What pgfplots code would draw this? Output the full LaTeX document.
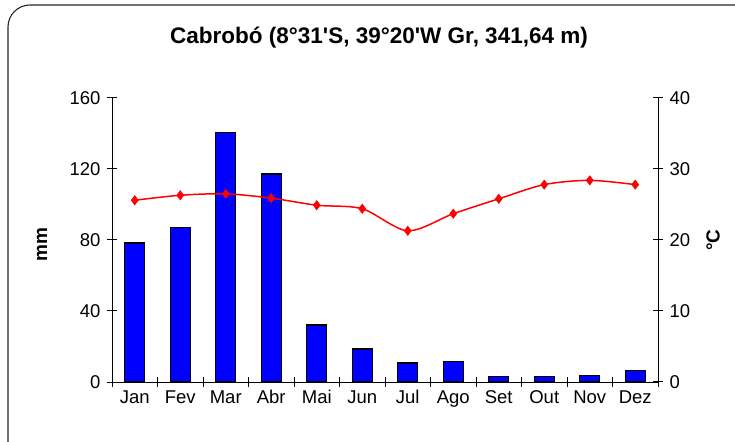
\documentclass[border=0pt]{standalone}
\usepackage{pgfplots}
\pgfplotsset{compat=1.18}
\usepackage{fontspec}
\setmainfont{Liberation Sans}[Ligatures=TeXOff]
\definecolor{barblue}{RGB}{0,0,255}
\definecolor{linered}{RGB}{255,0,0}
\begin{document}
\begin{tikzpicture}
\useasboundingbox (0pt,0pt) rectangle (735pt,441pt);
\begin{scope}
\clip (0pt,0pt) rectangle (735pt,441pt);
\draw[line width=1.1pt, rounded corners=22pt, black!85] (8pt,-30pt) rectangle (770pt,436pt);
\node[font=\fontsize{22.5}{26}\selectfont\bfseries] at (379pt,403pt) {Cabrobó (8°31'S, 39°20'W Gr, 341,64 m)};
\node[font=\fontsize{19}{22}\selectfont\bfseries, rotate=90] at (42pt,196pt) {mm};
\node[font=\fontsize{19}{22}\selectfont\bfseries, rotate=90] at (713pt,201pt) {°C};
\begin{axis}[
  at={(112pt,59pt)}, anchor=south west,
  scale only axis, width=546pt, height=284pt,
  xmin=-0.5, xmax=11.5, ymin=0, ymax=160,
  axis y line*=left, axis x line*=bottom,
  axis line style={line width=1pt},
  ytick={0,40,80,120,160},
  xtick={-0.5,0.5,...,11.5},
  xticklabels={},
  extra x ticks={0,1,...,11},
  extra x tick labels={Jan,Fev,Mar,Abr,Mai,Jun,Jul,Ago,Set,Out,Nov,Dez},
  extra x tick style={major tick length=0pt},
  major tick length=10pt,
  tick align=center,
  every tick/.style={black, line width=1pt},
  ticklabel style={font=\fontsize{18.5}{21}\selectfont},
  /pgf/number format/assume math mode=true,
  xticklabel style={yshift=-5pt},
  yticklabel style={xshift=-3pt},
  clip=false,
]
\addplot[ybar, bar width=20pt, fill=barblue, draw=black, line width=1.1pt] coordinates {
(0,78.3) (1,86.8) (2,140.8) (3,117.2) (4,32.1) (5,18.6)
(6,10.7) (7,11.8) (8,3.0) (9,3.0) (10,3.8) (11,6.6)};
\end{axis}
\begin{axis}[
  at={(112pt,59pt)}, anchor=south west,
  scale only axis, width=546pt, height=284pt,
  xmin=-0.5, xmax=11.5, ymin=0, ymax=40,
  axis y line*=right, axis x line=none,
  axis line style={line width=1pt},
  ytick={0,10,20,30,40},
  major tick length=10pt,
  tick align=center,
  every tick/.style={black, line width=1pt},
  ticklabel style={font=\fontsize{18.5}{21}\selectfont},
  /pgf/number format/assume math mode=true,
  yticklabel style={xshift=3pt},
]
\addplot[linered, line width=1.5pt, smooth, tension=0.5, mark=diamond*, mark size=4.6pt, mark options={fill=linered, draw=linered, line width=0.6pt}] coordinates {
(0,25.6) (1,26.3) (2,26.5) (3,25.9) (4,24.9) (5,24.4)
(6,21.3) (7,23.7) (8,25.8) (9,27.8) (10,28.4) (11,27.8)};
\end{axis}
\end{scope}
\end{tikzpicture}
\end{document}
